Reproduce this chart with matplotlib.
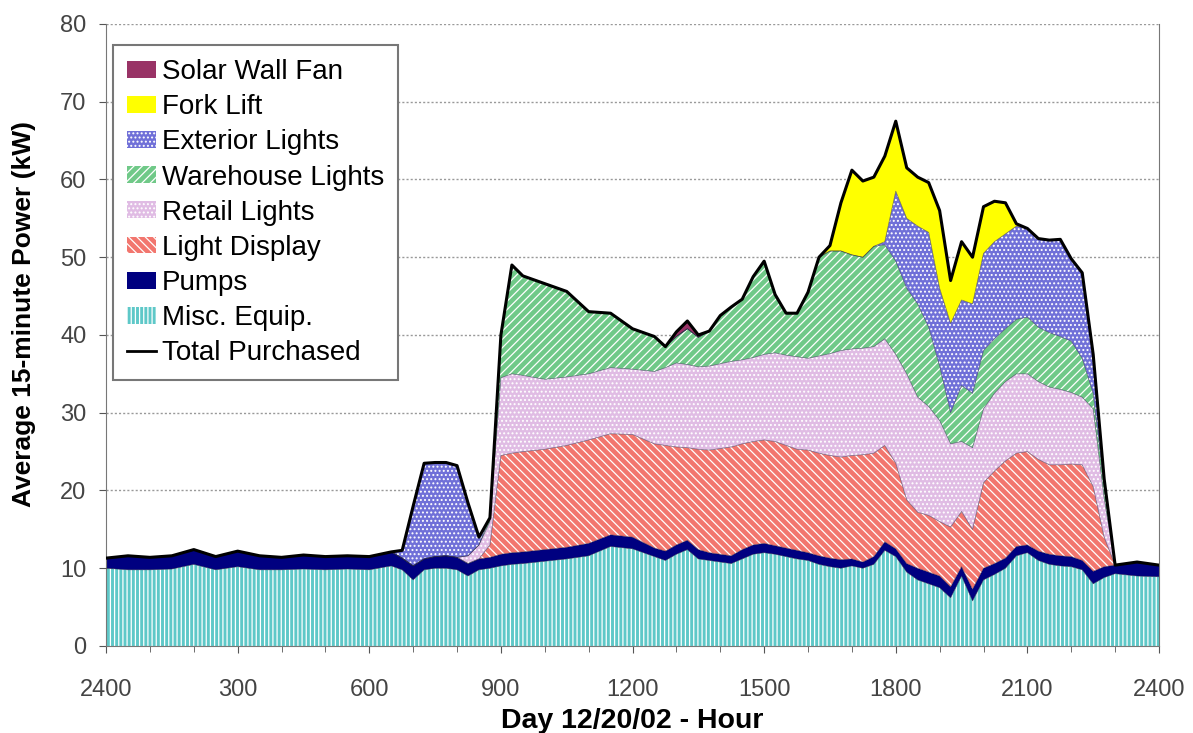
import matplotlib
matplotlib.use('Agg')
import matplotlib.pyplot as plt
from matplotlib.lines import Line2D
import numpy as np

plt.rcParams['font.family'] = ['Liberation Sans', 'DejaVu Sans']
plt.rcParams['hatch.linewidth'] = 0.9

# hour of day (15-minute samples where the curve moves fast)
hours = [0, 0.5, 1, 1.5, 2, 2.5, 3, 3.5, 4, 4.5, 5, 5.5, 6, 6.5, 6.75, 7, 7.25, 7.5, 7.75, 8,
         8.25, 8.5, 8.75, 9, 9.25, 9.5, 10, 10.5, 11, 11.5, 12, 12.5, 12.75, 13, 13.25, 13.5, 13.75,
         14, 14.25, 14.5, 14.75, 15, 15.25, 15.5, 15.75, 16, 16.25, 16.5, 16.75, 17, 17.25, 17.5,
         17.75, 18, 18.25, 18.5, 18.75, 19, 19.25, 19.5, 19.75, 20, 20.25, 20.5, 20.75, 21, 21.25,
         21.5, 21.75, 22, 22.25, 22.5, 22.75, 23, 23.5, 24]

misc_equip = [10.0, 9.8, 9.8, 9.9, 10.5, 9.8, 10.2, 9.8, 9.8, 9.9,
              9.8, 9.9, 9.8, 10.3, 9.8, 8.5, 9.8, 10.0, 10.0, 9.8,
              9.0, 9.8, 10.0, 10.3, 10.5, 10.6, 10.9, 11.2, 11.6, 12.8,
              12.5, 11.5, 11.0, 11.8, 12.4, 11.2, 11.0, 10.8, 10.6, 11.2,
              11.8, 12.0, 11.8, 11.5, 11.2, 11.0, 10.5, 10.2, 10.0, 10.3,
              10.0, 10.5, 12.3, 11.5, 9.5, 8.5, 8.0, 7.5, 6.2, 9.0,
              5.8, 8.5, 9.2, 10.0, 11.6, 12.0, 11.0, 10.5, 10.3, 10.2,
              9.8, 8.0, 8.8, 9.3, 9.0, 8.9]
pumps = [1.3, 1.8, 1.6, 1.7, 1.9, 1.7, 2.0, 1.8, 1.6, 1.8,
         1.7, 1.7, 1.7, 1.8, 1.5, 1.8, 1.4, 1.5, 1.6, 1.6,
         1.6, 1.4, 1.4, 1.5, 1.5, 1.5, 1.5, 1.5, 1.6, 1.5,
         1.5, 1.1, 1.2, 1.2, 1.2, 1.2, 1.0, 1.0, 1.0, 1.2,
         1.2, 1.2, 1.1, 1.1, 1.1, 1.0, 1.1, 1.1, 1.1, 0.9,
         0.8, 1.0, 1.1, 1.0, 1.1, 1.5, 1.5, 1.5, 1.4, 1.2,
         1.5, 1.5, 1.4, 1.3, 1.2, 1.0, 1.2, 1.3, 1.3, 1.3,
         1.2, 1.6, 1.4, 1.1, 1.8, 1.5]
light_display = [0] * 22 + [
    1.6, 12.7, 12.8, 12.9, 12.9, 13.1, 13.3, 13.0, 13.2, 13.4, 13.6, 12.6, 11.9, 12.9, 13.2,
    13.6, 14.0, 13.6, 13.3, 13.3, 13.4, 13.2, 13.0, 13.2, 13.2, 13.2, 13.2, 13.3, 13.8, 13.3,
    12.4, 11.0, 8.2, 7.2, 7.3, 7.0, 7.7, 7.1, 7.7, 11.0, 11.9, 12.5, 12.0, 12.0, 11.8, 11.5,
    11.7, 11.9, 12.3, 10.9, 3.8] + [0] * 3
retail_lights = [0] * 20 + [
    1.0, 1.8, 3.0, 10.0, 10.2, 9.8, 9.0, 8.8, 8.5, 8.5, 8.4, 9.3, 10.0, 10.8, 10.7, 10.6, 10.8,
    10.9, 11.0, 10.8, 10.8, 11.0, 11.4, 11.6, 11.9, 11.8, 12.5, 13.1, 13.7, 13.7, 13.7, 13.7,
    13.7, 14.0, 16.2, 14.8, 14.0, 13.0, 10.7, 9.0, 10.5, 9.5, 10.0, 10.2, 10.2, 10.0, 10.0,
    10.0, 9.7, 9.2, 8.7, 10.0, 5.0] + [0] * 3
warehouse_lights = [0] * 22 + [
    0.5, 5.5, 14.0, 12.8, 12.3, 11.0, 8.0, 7.0, 5.2, 4.5, 2.7, 3.4, 4.6, 3.8, 4.5,
    6.2, 7.0, 7.8, 10.4, 12.0, 7.5, 5.4, 5.6, 8.5, 12.7, 13.2, 12.8, 12.1, 11.7, 12.9,
    12.1, 12.0, 11.0, 12.0, 10.2, 7.0, 4.0, 7.2, 7.0, 7.5, 7.0, 6.8, 7.0, 7.3, 7.0, 7.0,
    6.8, 6.6, 5.0, 2.0, 1.5] + [0] * 3
exterior_lights = [0] * 14 + [1.0, 7.7, 12.3, 12.1, 12.0, 11.8, 6.8, 1.0] + [0] * 30 + [
    0.4, 9.0, 9.0, 10.0, 12.2, 10.0, 11.5, 11.0, 11.5, 12.5, 12.5, 12.2, 12.0, 11.4, 11.4,
    11.9, 12.5, 10.6, 11.0, 5.0, 1.0] + [0] * 3
fork_lift = [0] * 47 + [0.7, 6.2, 10.9, 9.8, 8.9, 11.0, 9.0, 6.5, 6.3, 6.4, 10.0, 5.5,
                        7.5, 6.0, 6.0, 5.2, 4.0, 0.3] + [0] * 11
solar_wall_fan = [0] * 33 + [0.6, 1.0, 0.3] + [0] * 40

names = ['Misc. Equip.', 'Pumps', 'Light Display', 'Retail Lights', 'Warehouse Lights',
         'Exterior Lights', 'Fork Lift', 'Solar Wall Fan']
series = [misc_equip, pumps, light_display, retail_lights, warehouse_lights,
          exterior_lights, fork_lift, solar_wall_fan]
colors = ['#5EC8C8', '#000080', '#F2766E', '#E0BCE4', '#70C988', '#7070D8', '#FFFF00', '#993366']
hatches = ['||||', None, '\\\\\\\\', '....', '////', '....', None, None]

x = np.array(hours)
ys = np.array(series, dtype=float)
total = ys.sum(axis=0)

fig = plt.figure(figsize=(11.93, 7.33), dpi=100)
ax = fig.add_axes([0.0889, 0.1187, 0.8826, 0.8486])

polys = ax.stackplot(x, ys, colors=colors, linewidth=0, zorder=2)
for p, h in zip(polys, hatches):
    if h:
        p.set_hatch(h)
        p.set_edgecolor('white')
        p.set_linewidth(0)

# thin boundary between layers
cum = np.cumsum(ys, axis=0)
for i in range(len(names) - 1):
    ax.plot(x, cum[i], color='#202040', lw=0.5, alpha=0.6, zorder=3)
ax.plot(x, total, color='black', lw=2.2, zorder=4)

ax.set_xlim(0, 24)
ax.set_ylim(0, 80)
ax.set_yticks(range(0, 81, 10))
ax.set_xticks(range(0, 25, 3))
ax.set_xticklabels(['2400', '300', '600', '900', '1200', '1500', '1800', '2100', '2400'])
ax.set_xticks(range(0, 25), minor=True)
ax.yaxis.grid(True, color='#999999', linestyle=(0, (1.5, 1.5)), lw=1)
ax.set_axisbelow(True)
ax.tick_params(axis='both', which='major', labelsize=17, labelcolor='#444444', color='#555555',
               direction='out', length=5)
ax.tick_params(axis='x', which='minor', direction='out', length=4, color='#555555')
ax.tick_params(axis='x', which='major', pad=19)
ax.tick_params(axis='y', which='major', pad=9)
for s in ['left', 'bottom', 'right']:
    ax.spines[s].set_color('#777777')
ax.spines['top'].set_visible(False)

ax.set_xlabel('Day 12/20/02 - Hour', fontsize=20.5, fontweight='bold', labelpad=5)
ax.set_ylabel('Average 15-minute Power (kW)', fontsize=19, fontweight='bold',
              va='center', ha='center')
ax.yaxis.set_label_coords(-0.078, 0.534)

handles = list(polys[::-1]) + [Line2D([0], [0], color='black', lw=2)]
labels = names[::-1] + ['Total Purchased']
leg = ax.legend(handles, labels, loc='upper left', bbox_to_anchor=(0.0066, 0.966),
                borderaxespad=0, fontsize=20, handlelength=1.05, handleheight=0.55,
                handletextpad=0.2, labelspacing=0.33, fancybox=False, framealpha=1,
                edgecolor='#777777', borderpad=0.5)
leg.get_frame().set_linewidth(1.5)
leg.set_zorder(6)

plt.savefig('out.png', dpi=100)
